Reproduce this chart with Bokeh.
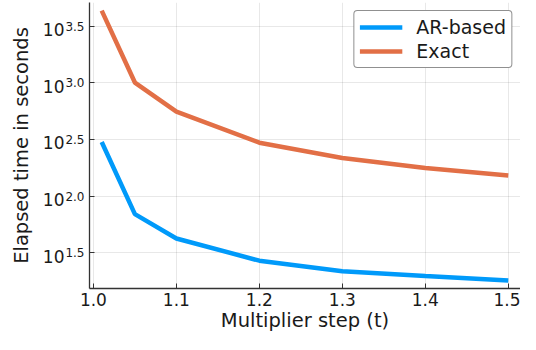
import math
from bokeh.plotting import figure
from bokeh.models import (Range1d, FixedTicker, LogAxis, LogScale, Legend, LegendItem,
                          CustomJSTickFormatter)
from bokeh.embed import file_html
from bokeh.resources import INLINE

# ---- data ----
steps = [1.01, 1.05, 1.1, 1.2, 1.3, 1.4, 1.5]
ar_based = [300, 69.5, 42.4, 27.0, 21.8, 19.8, 18.1]
exact = [4325, 1004, 557, 296, 217, 177, 152]
x_ticks = [1.0, 1.1, 1.2, 1.3, 1.4, 1.5]
y_tick_exponents = [1.5, 2.0, 2.5, 3.0, 3.5]
series_names = ["AR-based", "Exact"]
series_colors = ["#009AFA", "#E26F46"]

FONT = "DejaVu Sans"
TXT = "#1a1a1a"
AXC = "#333333"

W, H = 520, 334
BL, BT, BB = 89, 2, 47

# ranges like Julia Plots (3% widening)
xmin, xmax = min(steps), max(steps)
xpad = 0.03 * (xmax - xmin)
lmin = math.log10(min(ar_based + exact))
lmax = math.log10(max(ar_based + exact))
lpad = 0.03 * (lmax - lmin)
lo, hi = lmin - lpad, lmax + lpad

p = figure(width=W, height=H, y_axis_type="log",
           x_range=Range1d(xmin - xpad, xmax + xpad),
           y_range=Range1d(10 ** lo, 10 ** hi),
           output_backend="svg", toolbar_location=None,
           min_border_left=BL, min_border_right=0, min_border_top=BT, min_border_bottom=40)
p.outline_line_color = None
p.background_fill_color = "white"

# shifted copy of the y range so that the base "10" sits a few px below the exponent
px_per_decade = (H - BT - BB) / (hi - lo)
shift = 3.3 / px_per_decade
p.extra_y_ranges = {"base": Range1d(10 ** (lo + shift), 10 ** (hi + shift))}
p.extra_y_scales = {"base": LogScale()}

renderers = []
for ys, c in zip([ar_based, exact], series_colors):
    r = p.line(steps, ys, line_color=c, line_width=4.5)
    renderers.append(r)

y_ticks = [10 ** e for e in y_tick_exponents]

# x axis
xa = p.xaxis[0]
xa.ticker = FixedTicker(ticks=x_ticks)
xa.formatter = CustomJSTickFormatter(code="return tick.toFixed(1);")
xa.axis_line_color = AXC
xa.axis_line_width = 1.3
xa.major_tick_line_color = AXC
xa.major_tick_in = 5
xa.major_tick_out = 0
xa.minor_tick_line_color = None
xa.major_label_text_font = FONT
xa.major_label_text_font_size = "17px"
xa.major_label_text_color = TXT
xa.major_label_standoff = 4
xa.axis_label = "Multiplier step (t)"
xa.axis_label_standoff = 0
xa.axis_label_text_font = FONT
xa.axis_label_text_font_size = "19.5px"
xa.axis_label_text_font_style = "normal"
xa.axis_label_text_color = TXT

# inner y axis: line, ticks and the exponent part of "10^e"
ya = p.yaxis[0]
ya.ticker = FixedTicker(ticks=y_ticks)
ya.formatter = CustomJSTickFormatter(code="return Math.log10(tick).toFixed(1);")
ya.axis_line_color = AXC
ya.axis_line_width = 1.3
ya.major_tick_line_color = AXC
ya.major_tick_in = 5
ya.major_tick_out = 0
ya.minor_tick_line_color = None
ya.major_label_text_font = FONT
ya.major_label_text_font_size = "12px"
ya.major_label_text_color = TXT
ya.major_label_standoff = 5

# outer y axis: the base "10" and the axis title
yb = LogAxis(y_range_name="base", ticker=FixedTicker(ticks=y_ticks),
             formatter=CustomJSTickFormatter(code="return '10';"))
yb.axis_line_color = None
yb.major_tick_line_color = None
yb.minor_tick_line_color = None
yb.major_label_text_font = FONT
yb.major_label_text_font_size = "17px"
yb.major_label_text_color = TXT
yb.major_label_standoff = -8
yb.axis_label = "Elapsed time in seconds"
yb.axis_label_standoff = 7
yb.axis_label_text_font = FONT
yb.axis_label_text_font_size = "19.5px"
yb.axis_label_text_font_style = "normal"
yb.axis_label_text_color = TXT
p.add_layout(yb, "left")

p.xgrid.ticker = FixedTicker(ticks=x_ticks)
p.ygrid.ticker = FixedTicker(ticks=y_ticks)
for g in [p.xgrid, p.ygrid]:
    g.grid_line_color = "black"
    g.grid_line_alpha = 0.09
    g.grid_line_width = 1

legend = Legend(items=[LegendItem(label=n, renderers=[r]) for n, r in zip(series_names, renderers)],
                location="top_right")
legend.label_text_font = FONT
legend.label_text_font_size = "19px"
legend.label_text_color = TXT
legend.glyph_width = 43
legend.glyph_height = 20
legend.label_height = 20
legend.label_standoff = 14
legend.padding = 5
legend.spacing = 2
legend.margin = 8
legend.border_line_color = "#222222"
legend.border_line_width = 1
legend.background_fill_alpha = 1
if "border_radius" in Legend.properties():
    legend.border_radius = 4
p.add_layout(legend)

open("out.html", "w").write(file_html(p, INLINE))
